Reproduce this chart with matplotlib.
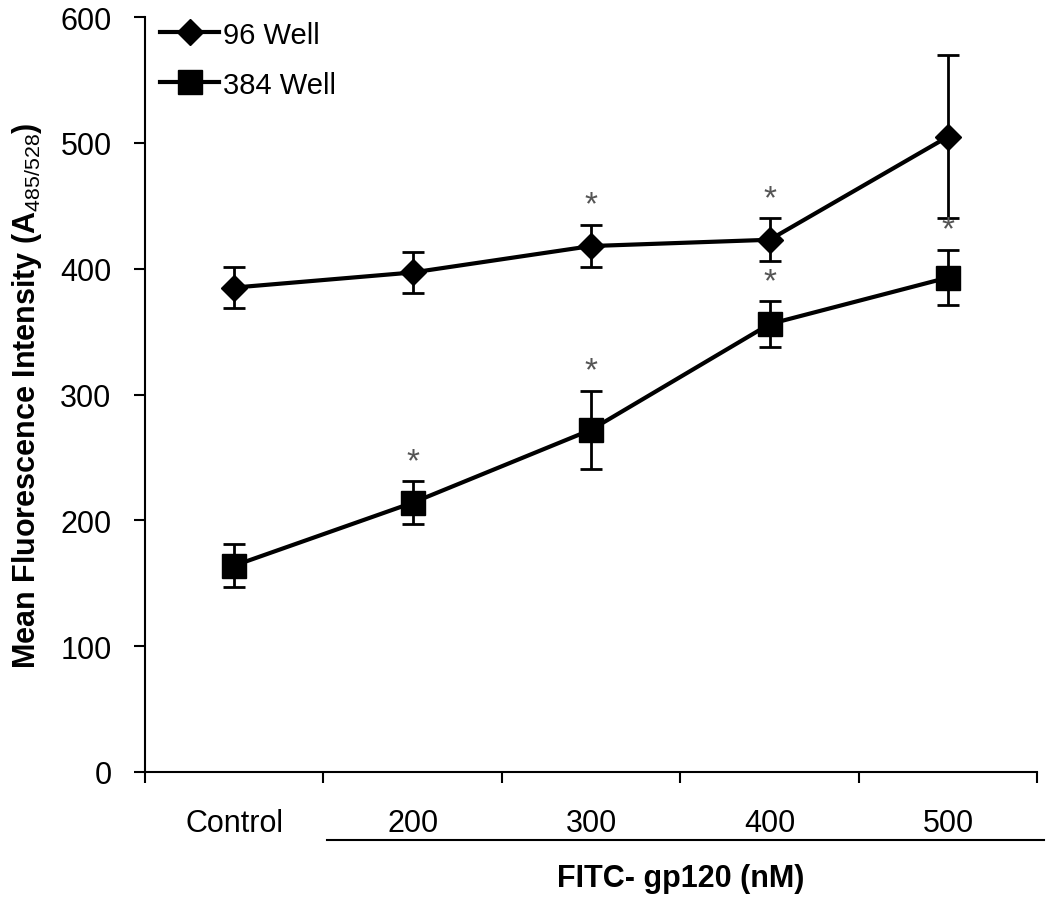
import numpy as np
import matplotlib.pyplot as plt

plt.rcParams['font.family'] = ['Liberation Sans', 'DejaVu Sans']
plt.rcParams['mathtext.fontset'] = 'custom'
plt.rcParams['mathtext.rm'] = 'Liberation Sans'

# dados
categorias = ['Control', '200', '300', '400', '500']
media_96 = [385, 397, 418, 423, 505]
erro_96 = [16, 16, 17, 17, 65]
media_384 = [164, 214, 272, 356, 393]
erro_384 = [17, 17, 31, 18, 22]
# pontos com asterisco (indice da categoria)
sig_96 = [2, 3]
sig_384 = [1, 2, 3, 4]

x = np.arange(len(categorias))

fig = plt.figure(figsize=(10.5, 9.03), dpi=100)
ax = fig.add_axes([0.138, 0.144, 0.850, 0.836])

e1 = ax.errorbar(x, media_96, yerr=erro_96, color='black', lw=3, marker='D',
                 ms=13, elinewidth=2, ecolor='black', capsize=8, capthick=2,
                 zorder=3)
e2 = ax.errorbar(x, media_384, yerr=erro_384, color='black', lw=3, marker='s',
                 ms=17, elinewidth=2, ecolor='black', capsize=8, capthick=2,
                 zorder=3)

# asteriscos
for i in sig_96:
    ax.annotate('*', (x[i], media_96[i] + erro_96[i]), xytext=(0, 3),
                textcoords='offset points', ha='center', va='bottom',
                fontsize=24, color='#555555')
for i in sig_384:
    ax.annotate('*', (x[i], media_384[i] + erro_384[i]), xytext=(0, 3),
                textcoords='offset points', ha='center', va='bottom',
                fontsize=24, color='#555555')

ax.set_xlim(-0.5, len(categorias) - 0.5)
ax.set_ylim(0, 600)
ax.set_yticks(np.arange(0, 601, 100))
ax.tick_params(axis='y', labelsize=22, direction='out', length=8, width=1.5, pad=16)

# ticks entre as categorias, rotulos no centro
ax.set_xticks(np.arange(-0.5, len(categorias), 1.0))
ax.set_xticklabels([])
ax.tick_params(axis='x', direction='out', length=8, width=1.5)
ax.set_xticks(x, minor=True)
ax.set_xticklabels(categorias, minor=True)
ax.tick_params(axis='x', which='minor', length=0, labelsize=22, pad=26)

for s in ['top', 'right']:
    ax.spines[s].set_visible(False)
for s in ['left', 'bottom']:
    ax.spines[s].set_linewidth(1.5)

# linha sob as concentracoes
ax.plot([0.204, 1.007], [-0.090, -0.090], color='black', lw=1.5,
        transform=ax.transAxes, clip_on=False)
ax.text(0.6, -0.141, 'FITC- gp120 (nM)', transform=ax.transAxes,
        ha='center', va='center', fontsize=22, fontweight='bold')

ax.set_ylabel('Mean Fluorescence Intensity (A$_{\\mathrm{485/528}}$)',
              fontsize=22, fontweight='bold', labelpad=12)

leg = ax.legend([e1[0], e2[0]], ['96 Well', '384 Well'], loc='upper left',
                bbox_to_anchor=(-0.012, 1.03), frameon=False, fontsize=21,
                handlelength=2.0, handletextpad=0.15, labelspacing=0.75)

plt.savefig('out.png', dpi=100)
